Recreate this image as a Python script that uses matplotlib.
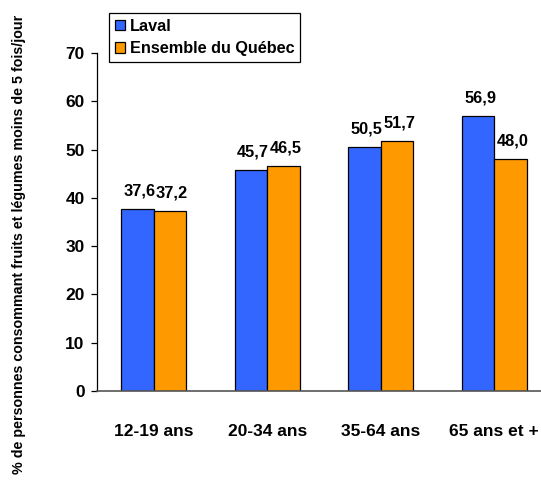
import matplotlib
matplotlib.use('Agg')
import matplotlib.pyplot as plt
import numpy as np

plt.rcParams['font.family'] = ['Liberation Sans', 'DejaVu Sans']
plt.rcParams['font.weight'] = 'bold'

# données
groupes = ['12-19 ans', '20-34 ans', '35-64 ans', '65 ans et +']
laval = [37.6, 45.7, 50.5, 56.9]
quebec = [37.2, 46.5, 51.7, 48.0]
series = ['Laval', 'Ensemble du Québec']
couleurs = ['#3366FF', '#FF9900']
yticks = [0, 10, 20, 30, 40, 50, 60, 70]

fig = plt.figure(figsize=(5.41, 4.82), dpi=100)
ax = fig.add_axes([0.1793, 0.1888, 0.8392, 0.7012])

x = np.arange(len(groupes))
w = 0.286
b1 = ax.bar(x - w / 2, laval, w, color=couleurs[0], edgecolor='black', linewidth=0.9, label=series[0])
b2 = ax.bar(x + w / 2, quebec, w, color=couleurs[1], edgecolor='black', linewidth=0.9, label=series[1])

for bars, vals in ((b1, laval), (b2, quebec)):
    for r, v in zip(bars, vals):
        ax.annotate(f'{v:.1f}'.replace('.', ','),
                    (r.get_x() + r.get_width() / 2, v),
                    xytext=(1.5, 8), textcoords='offset points',
                    ha='center', va='bottom', fontsize=11.8, fontweight='bold')

ax.set_xlim(-0.5, 3.5)
ax.set_ylim(0, 70)
ax.set_yticks(yticks)
ax.set_yticklabels([str(t) for t in yticks], fontsize=12.5, fontweight='bold')
ax.set_xticks(x)
ax.set_xticklabels(groupes, fontsize=12.5, fontweight='bold')
ax.tick_params(axis='x', length=0, pad=24)
ax.tick_params(axis='y', length=4, width=0.9, pad=5, direction='out')

for s in ['top', 'right']:
    ax.spines[s].set_visible(False)
ax.spines['left'].set_linewidth(0.9)
ax.spines['bottom'].set_color('#555555')
ax.spines['bottom'].set_linewidth(1.2)

fig.text(0.035, 0.492, '% de personnes consommant fruits et légumes moins de 5 fois/jour',
         rotation=90, ha='center', va='center', fontsize=10.3, fontweight='bold')

leg = ax.legend(loc='upper left', bbox_to_anchor=(0.027, 1.118), fontsize=11.7,
                frameon=True, fancybox=False, edgecolor='black', framealpha=1,
                handlelength=0.6, handleheight=0.6, handletextpad=0.3,
                borderpad=0.35, labelspacing=0.45, borderaxespad=0)
leg.get_frame().set_linewidth(0.9)
for t in leg.get_texts():
    t.set_fontweight('bold')

plt.savefig('out.png', dpi=100)
